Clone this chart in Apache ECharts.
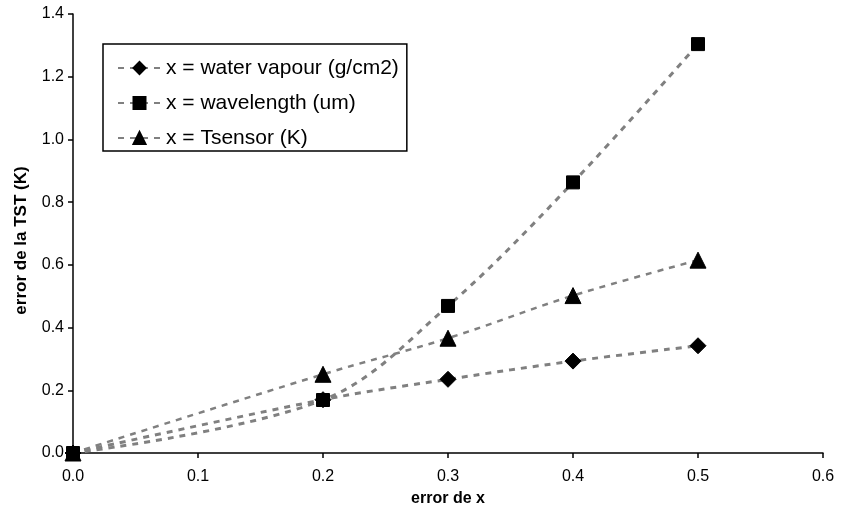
<!DOCTYPE html>
<html><head><meta charset="utf-8">
<script src="https://cdn.jsdelivr.net/npm/echarts@6/dist/echarts.min.js"></script>
<style>html,body{margin:0;padding:0;background:#fff}#c{width:845px;height:512px}</style>
</head><body><div id="c"></div>
<script>
const xValues = [0.0, 0.2, 0.3, 0.4, 0.5];
const waterVapour = [0.0, 0.17, 0.235, 0.293, 0.342];
const wavelength = [0.0, 0.169, 0.469, 0.863, 1.304];
const tsensor = [0.0, 0.251, 0.366, 0.502, 0.615];
const seriesNames = ['x = water vapour (g/cm2)', 'x = wavelength (um)', 'x = Tsensor (K)'];
const xTicks = [0.0, 0.1, 0.2, 0.3, 0.4, 0.5, 0.6];
const yTicks = [0.0, 0.2, 0.4, 0.6, 0.8, 1.0, 1.2, 1.4];

const pair = arr => xValues.map((x, i) => [x, arr[i]]);
const font = 'Liberation Sans, Arial, sans-serif';
const chart = echarts.init(document.getElementById('c'), null, {renderer: 'canvas'});
function mk(name, data, symbol, size, lw) {
  return {
    name, type: 'line', data: pair(data), symbol, symbolSize: size, smooth: 0.35,
    itemStyle: {color: '#000', borderColor: '#000', borderWidth: 1},
    lineStyle: {color: '#808080', width: lw, type: [6, 6]},
    emphasis: {disabled: true}, z: 3
  };
}
chart.setOption({
  animation: false,
  grid: {left: 73, right: 22, top: 14, bottom: 59, containLabel: false},
  xAxis: {
    type: 'value', min: 0, max: 0.6, interval: 0.1,
    name: 'error de x', nameLocation: 'middle', nameGap: 38,
    nameTextStyle: {fontFamily: font, fontWeight: 'bold', fontSize: 16, color: '#000'},
    axisLine: {lineStyle: {color: '#000', width: 1.5}},
    axisTick: {show: true, inside: false, length: 5, lineStyle: {color: '#000', width: 1.5}},
    splitLine: {show: false},
    axisLabel: {fontFamily: font, fontSize: 16, color: '#000', margin: 16,
      formatter: v => xTicks.includes(Math.round(v*10)/10) ? v.toFixed(1) : ''}
  },
  yAxis: {
    type: 'value', min: 0, max: 1.4, interval: 0.2,
    name: 'error de la TST (K)', nameLocation: 'middle', nameGap: 43, nameRotate: 90,
    nameTextStyle: {fontFamily: font, fontWeight: 'bold', fontSize: 17, color: '#000', padding: [0, 14, 0, 0]},
    axisLine: {show: true, lineStyle: {color: '#000', width: 1.5}},
    axisTick: {show: true, length: 5, lineStyle: {color: '#000', width: 1.5}},
    splitLine: {show: false},
    axisLabel: {fontFamily: font, fontSize: 16, color: '#000', margin: 9,
      formatter: v => yTicks.includes(Math.round(v*10)/10) ? v.toFixed(1) : ''}
  },
  legend: {
    orient: 'vertical', left: 103, top: 44, padding: [13, 8, 2, 14],
    itemGap: 13, itemWidth: 43, itemHeight: 15,
    borderColor: '#000', borderWidth: 1.5, backgroundColor: '#fff',
    textStyle: {fontFamily: font, fontSize: 21, lineHeight: 22, color: '#000'},
    data: seriesNames
  },
  series: [
    mk(seriesNames[0], waterVapour, 'diamond', 16, 3),
    mk(seriesNames[1], wavelength, 'rect', 13, 3),
    mk(seriesNames[2], tsensor, 'triangle', 16, 2.5)
  ]
});
</script></body></html>
